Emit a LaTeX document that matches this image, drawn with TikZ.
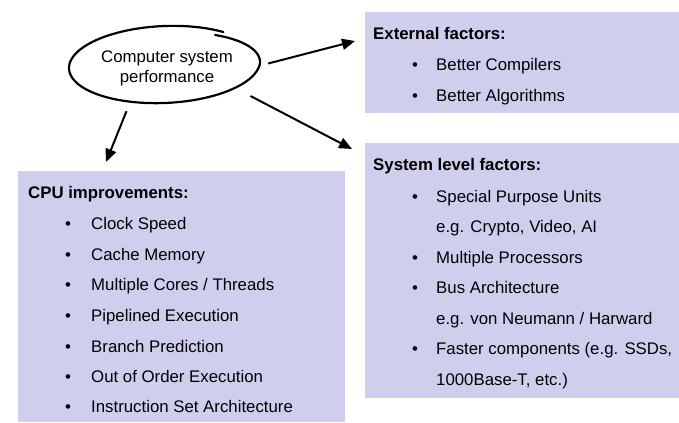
\documentclass[tikz,border=0pt]{standalone}
\usepackage{fontspec}
\setmainfont{Liberation Sans}
\usetikzlibrary{arrows.meta,calc,shapes.geometric}
\definecolor{boxfill}{RGB}{207,207,237}
\begin{document}
\begin{tikzpicture}[x=1bp,y=-1bp,
  every node/.style={font=\fontsize{16.8bp}{20bp}\selectfont},
  panel/.style={fill=boxfill, draw=none, inner sep=0, outer sep=0, anchor=north west},
  ttl/.style={anchor=base west, inner sep=0, font=\fontsize{16.8bp}{20bp}\selectfont\bfseries},
  itm/.style={anchor=base west, inner sep=0},
  bul/.style={anchor=base, inner sep=0},
  ctr/.style={anchor=base, inner sep=0},
  arr/.style={line width=2bp, -{Triangle[length=13bp,width=11bp]}},
  sketch/.style={line width=2.2bp, line cap=round}
]
\useasboundingbox (0,0) rectangle (679,422);
\fill[white] (0,0) rectangle (679,422);

% panels
\node[panel, minimum width=314bp, minimum height=101bp] (ext) at (365,12) {};
\node[panel, minimum width=314bp, minimum height=255bp] (sys) at (365,143) {};
\node[panel, minimum width=327bp, minimum height=251bp] (cpu) at (18,171) {};

% ellipse node (hand-drawn outline)
\node[ellipse, minimum width=191bp, minimum height=77bp, inner sep=0] (perf) at (164.5,64.5) {};
\draw[sketch] plot[smooth, domain=-58:308, samples=110, variable=\t]
  ({164.5 + 95.5*cos(\t)},
   {64.5 - 3.5*cos(\t) + 38.5*sin(\t) + 5*max(0,1-(\t+58)/70)});
\node[ctr] (pt1) at (167,62) {Computer system};
\node[ctr] (pt2) at (167,82) {performance};

% arrows
\draw[arr] ($(perf.east)+(8,-1)$) -- ($(ext.north west)+(-10,29)$);
\draw[arr] ($(perf.center)+(86,31.5)$) -- ($(sys.north west)+(-13,6)$);
\draw[arr] ($(perf.south)+(-38,8)$) -- ($(cpu.north west)+(88,-9)$);

% external
\node[ttl] (extt) at (373,39) {External factors:};
\node[bul] (eb1) at (415,70) {•};
\node[itm] (e1) at (436,70) {Better Compilers};
\node[bul] (eb2) at (415,101) {•};
\node[itm] (e2) at (436,101) {Better Algorithms};

% system
\node[ttl] (syst) at (373,170) {System level factors:};
\node[bul] (sb1) at (415,202) {•};
\node[itm] (s1) at (436,202) {Special Purpose Units};
\node[itm] (s1b) at (436,232) {e.g. Crypto, Video, AI};
\node[bul] (sb2) at (415,263) {•};
\node[itm] (s2) at (436,263) {Multiple Processors};
\node[bul] (sb3) at (415,293) {•};
\node[itm] (s3) at (436,293) {Bus Architecture};
\node[itm] (s3b) at (436,324) {e.g. von Neumann / Harward};
\node[bul] (sb4) at (415,354) {•};
\node[itm] (s4) at (436,354) {Faster components (e.g. SSDs,};
\node[itm] (s4b) at (436,385) {1000Base-T, etc.)};

% cpu
\node[ttl] (cput) at (28,198) {CPU improvements:};
\foreach \y/\txt [count=\i] in {229/{Clock Speed}, 260/{Cache Memory}, 290/{Multiple Cores / Threads}, 321/{Pipelined Execution}, 352/{Branch Prediction}, 382/{Out of Order Execution}, 412/{Instruction Set Architecture}}{
  \node[bul] (cb\i) at (68,\y) {•};
  \node[itm] (c\i) at (91,\y) {\txt};
}
\end{tikzpicture}
\end{document}
